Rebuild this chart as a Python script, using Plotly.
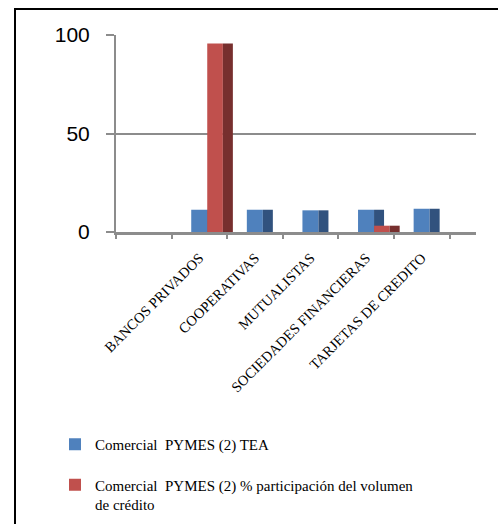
import plotly.graph_objects as go

categories = [" ", "BANCOS PRIVADOS", "COOPERATIVAS", "MUTUALISTAS",
              "SOCIEDADES FINANCIERAS", "TARJETAS DE CREDITO"]
tea = [None, 11.3, 11.3, 11.0, 11.3, 11.8]
participacion = [None, 95.7, None, None, 3.2, None]
series_names = ["Comercial\u00a0 PYMES (2) TEA",
                "Comercial\u00a0 PYMES (2) % participación del volumen<br>de crédito"]
y_ticks = [0, 50, 100]

W, H = 498, 524
L, R, T, B = 116, 22, 35, 292
pw, ph = W - L - R, H - T - B
unit = 55.6
xr = [-0.5, -0.5 + pw / unit]

def px_x(px):
    return (px - L) / pw

def px_y(py):
    return (H - B - py) / ph

fig = go.Figure()
blue, blue_d = "#4F81BD", "#31527E"
red, red_d = "#C0504D", "#772F2E"

fig.add_bar(x=categories, y=tea, name=series_names[0], marker_color=blue,
            marker_line_width=0, offset=-0.147, width=0.288,
            legendgroup="a", showlegend=True)
fig.add_bar(x=categories, y=tea, marker_color=blue_d, marker_line_width=0,
            offset=0.141, width=0.18, legendgroup="a", showlegend=False)
fig.add_bar(x=categories, y=participacion, name=series_names[1], marker_color=red,
            marker_line_width=0, offset=0.141, width=0.281,
            legendgroup="b", showlegend=True)
fig.add_bar(x=categories, y=participacion, marker_color=red_d, marker_line_width=0,
            offset=0.422, width=0.18, legendgroup="b", showlegend=False)

fig.update_layout(
    width=W, height=H,
    margin=dict(l=L, r=R, t=T, b=B, pad=0, autoexpand=False),
    paper_bgcolor="white", plot_bgcolor="white",
    barmode="overlay",
    showlegend=True,
    legend=dict(x=px_x(55), y=px_y(428), xanchor="left", yanchor="top",
                font=dict(family="Liberation Serif", size=15, color="black"),
                tracegroupgap=18, valign="top", traceorder="grouped",
                itemwidth=30),
    xaxis=dict(type="category", range=xr, showline=True, linecolor="#8c8c8c",
               linewidth=2.5, ticks="outside", ticklen=4, tickcolor="#8c8c8c",
               tickwidth=1.5, tickson="boundaries", tickangle=-45,
               ticklabelstandoff=9, automargin=False,
               tickfont=dict(family="Liberation Serif", size=14.5, color="black"),
               showgrid=False, zeroline=False, fixedrange=True),
    yaxis=dict(range=[0, 100], tickvals=y_ticks, showline=True, linecolor="#8c8c8c",
               linewidth=2, ticks="outside", ticklen=8, tickcolor="#8c8c8c",
               tickwidth=1.5, showgrid=True, gridcolor="#8c8c8c", gridwidth=1.5,
               zeroline=False, ticklabelstandoff=12, automargin=False,
               tickfont=dict(family="Liberation Sans", size=21, color="black")),
    shapes=[
        dict(type="line", xref="paper", yref="paper",
             x0=px_x(15), x1=px_x(15), y0=px_y(9), y1=px_y(530),
             line=dict(color="black", width=2), layer="above"),
        dict(type="line", xref="paper", yref="paper",
             x0=px_x(14), x1=px_x(520), y0=px_y(9), y1=px_y(9),
             line=dict(color="black", width=2), layer="above"),
    ],
)

fig.write_html(
    "out.html", config={"displayModeBar": False},
    post_script=("document.body.style.margin='0';"
                 "document.body.style.overflow='hidden';"
                 "document.documentElement.style.overflow='hidden';"))
